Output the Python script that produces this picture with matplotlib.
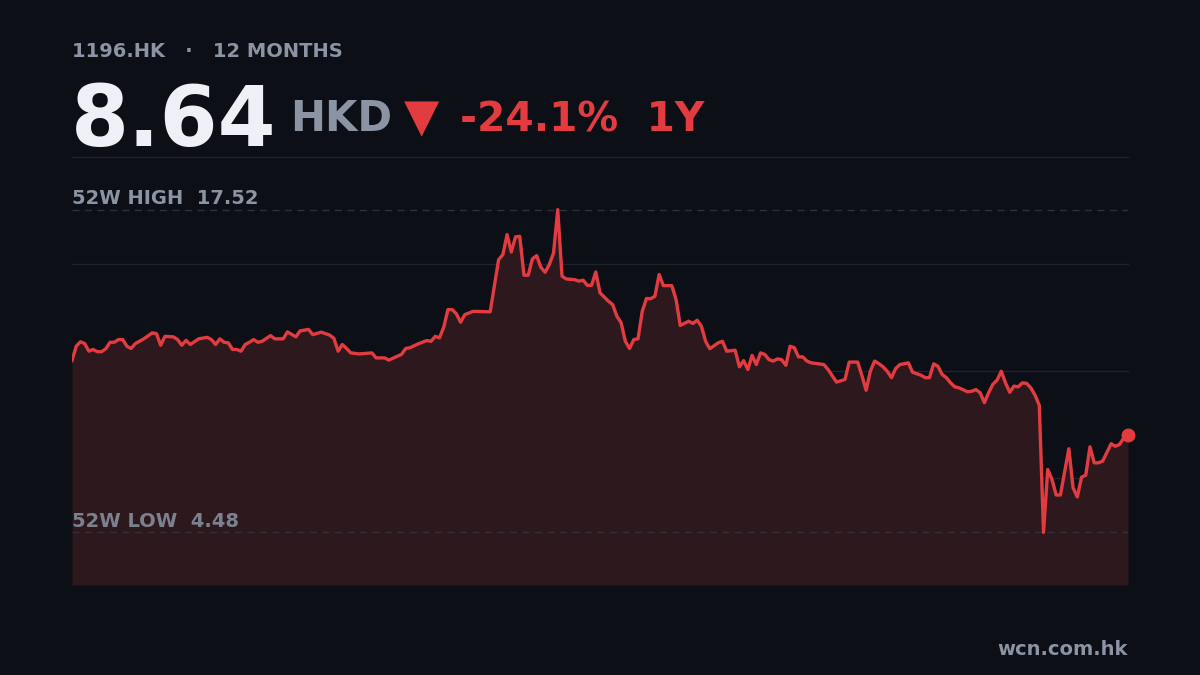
import matplotlib
matplotlib.use("Agg")
import matplotlib.pyplot as plt

# price data (trading day index, close)
days = [0, 1, 2, 3, 4, 5, 6, 7, 8, 9, 10, 11, 12, 13, 14, 15, 17, 19, 20, 21,
        22, 24, 25, 26, 27, 28, 30, 32, 33, 34, 35, 36, 37, 38, 39, 40, 41, 42, 43, 44,
        45, 47, 48, 50, 51, 53, 54, 56, 57, 59, 61, 62, 63, 64, 65, 66, 68, 71, 72, 74,
        75, 78, 79, 80, 82, 84, 85, 86, 87, 88, 89, 90, 91, 92, 93, 95, 99, 101, 102, 103,
        104, 105, 106, 107, 108, 109, 110, 111, 112, 113, 114, 115, 116, 117, 119, 120, 121, 122, 123, 124,
        125, 127, 128, 129, 130, 131, 132, 133, 134, 135, 136, 137, 138, 139, 140, 142, 143, 144, 146, 147,
        148, 149, 150, 151, 153, 154, 155, 157, 158, 159, 160, 161, 162, 163, 164, 165, 166, 167, 168, 169,
        170, 171, 172, 173, 174, 175, 178, 179, 181, 183, 184, 186, 187, 188, 189, 190, 191, 192, 193, 194,
        195, 196, 198, 199, 201, 202, 203, 204, 205, 206, 207, 208, 209, 210, 212, 213, 214, 215, 216, 217,
        218, 219, 220, 221, 222, 223, 224, 225, 226, 227, 228, 229, 230, 231, 232, 233, 234, 236, 237, 238,
        239, 240, 241, 242, 243, 244, 246, 247, 248, 249, 250]
closes = [11.42, 12.00, 12.18, 12.11, 11.80, 11.87, 11.78, 11.78, 11.90, 12.16, 12.16, 12.27, 12.27, 12.00, 11.91, 12.11, 12.30, 12.54, 12.51, 12.04,
          12.40, 12.38, 12.27, 12.04, 12.24, 12.07, 12.30, 12.36, 12.27, 12.07, 12.30, 12.16, 12.14, 11.87, 11.87, 11.80, 12.07, 12.16, 12.27, 12.16,
          12.20, 12.43, 12.30, 12.30, 12.58, 12.38, 12.62, 12.68, 12.47, 12.57, 12.45, 12.32, 11.80, 12.07, 11.91, 11.73, 11.69, 11.73, 11.53, 11.53,
          11.44, 11.67, 11.91, 11.94, 12.10, 12.23, 12.20, 12.40, 12.34, 12.77, 13.48, 13.48, 13.31, 12.97, 13.28, 13.41, 13.39, 15.50, 15.70, 16.51,
          15.81, 16.42, 16.44, 14.87, 14.87, 15.53, 15.66, 15.19, 14.99, 15.30, 15.77, 17.52, 14.83, 14.72, 14.69, 14.63, 14.67, 14.46, 14.46, 15.00,
          14.16, 13.82, 13.68, 13.21, 12.95, 12.20, 11.91, 12.27, 12.30, 13.41, 13.93, 13.92, 14.02, 14.90, 14.45, 14.45, 13.89, 12.84, 13.01, 12.92,
          13.05, 12.81, 12.20, 11.90, 12.14, 12.20, 11.80, 11.84, 11.17, 11.42, 11.06, 11.63, 11.26, 11.73, 11.67, 11.46, 11.40, 11.49, 11.46, 11.23,
          12.00, 11.94, 11.57, 11.57, 11.40, 11.33, 11.26, 11.06, 10.55, 10.66, 11.36, 11.36, 10.82, 10.22, 10.99, 11.40, 11.30, 11.17, 10.99, 10.73,
          11.10, 11.26, 11.33, 10.95, 10.83, 10.73, 10.73, 11.29, 11.19, 10.86, 10.73, 10.52, 10.36, 10.32, 10.16, 10.18, 10.25, 10.12, 9.72, 10.12,
          10.46, 10.63, 10.99, 10.52, 10.14, 10.39, 10.36, 10.52, 10.50, 10.32, 10.02, 9.61, 4.48, 7.02, 6.62, 5.99, 5.99, 7.86, 6.28, 5.91,
          6.71, 6.79, 7.94, 7.29, 7.29, 7.36, 8.06, 7.96, 8.03, 8.30, 8.40]

ticker = "1196.HK"
period = "12 MONTHS"
last_price = "8.64"
currency = "HKD"
change = "-24.1%"
span = "1Y"
high_52w = 17.52
low_52w = 4.48
source = "wcn.com.hk"

BG = "#0c0f16"
RED = "#e23c40"
FILL = "#2d181d"
GREY = "#8a94a3"
GRID = "#1f232b"
DASH = "#2d323b"

fig = plt.figure(figsize=(12, 6.75), dpi=100, facecolor=BG)
ax = fig.add_axes([0.06, 1 - 585 / 675, 0.88, (585 - 157) / 675])
ax.set_facecolor(BG)

pad = 0.163 * (high_52w - low_52w)
y0, y1 = low_52w - pad, high_52w + pad
ax.set_xlim(days[0], days[-1])
ax.set_ylim(y0, y1)

# quarter grid lines, top one doubles as header separator
for f in [0.25, 0.5, 0.75, 1.0]:
    ax.axhline(y0 + (y1 - y0) * f, color=GRID, lw=1, zorder=1, clip_on=False)

ax.fill_between(days, closes, y0, color=FILL, lw=0, zorder=2)
ax.axhline(high_52w, color=DASH, lw=1, ls=(0, (5, 4)), zorder=3)
ax.axhline(low_52w, color=DASH, lw=1, ls=(0, (5, 4)), zorder=3)
ax.plot(days, closes, color=RED, lw=2.4, solid_joinstyle="round", zorder=4)
ax.plot(days[-1], closes[-1], "o", color=RED, ms=9, zorder=5, clip_on=False)

ax.annotate(f"52W HIGH  {high_52w:.2f}", (days[0], high_52w), xytext=(0, 4),
            textcoords="offset points", color=GREY, fontsize=14, fontweight="bold", va="baseline")
ax.annotate(f"52W LOW  {low_52w:.2f}", (days[0], low_52w), xytext=(0, 4),
            textcoords="offset points", color=GREY, alpha=0.85, fontsize=14, fontweight="bold", va="baseline")

for s in ax.spines.values():
    s.set_visible(False)
ax.set_xticks([])
ax.set_yticks([])

# header
fig.text(0.06, 1 - 57 / 675, f"{ticker}   ·   {period}", color=GREY, fontsize=14, fontweight="bold", va="baseline")
fig.text(0.059, 1 - 146 / 675, last_price, color="#eef0f5", fontsize=60, fontweight="bold", va="baseline")
fig.text(290 / 1200, 1 - 131 / 675, currency, color=GREY, fontsize=30, fontweight="bold", va="baseline")
fig.text(421 / 1200, 1 - 131 / 675, "▼", color=RED, fontsize=33, ha="center", va="baseline")
fig.text(460 / 1200, 1 - 131 / 675, f"{change}  {span}", color=RED, fontsize=29.3, fontweight="bold", va="baseline")

fig.text(0.94, 1 - 655 / 675, source, color=GREY, fontsize=14, fontweight="bold", ha="right", va="baseline")

plt.savefig("out.png", dpi=100, facecolor=BG)
